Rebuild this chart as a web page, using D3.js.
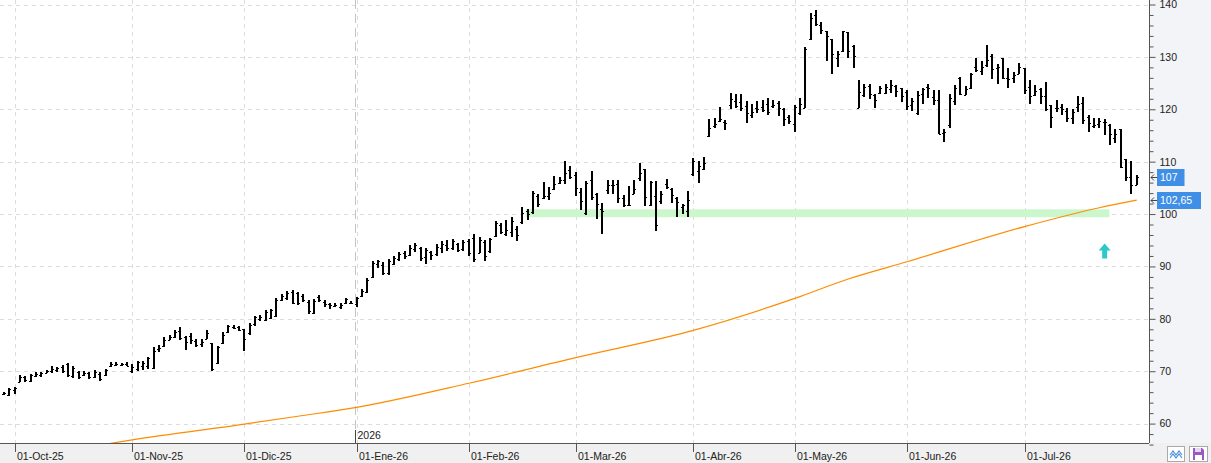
<!DOCTYPE html>
<html>
<head>
<meta charset="utf-8">
<script src="https://cdn.jsdelivr.net/npm/d3@7"></script>
<style>
body { margin: 0; background: #fff; }
svg { display: block; font-family: "Liberation Sans", Arial, sans-serif; }
</style>
</head>
<body>
<svg id="chart"></svg>
<script>
// daily bars: [open, high, low, close], one per trading day
var bars = [
  [65.6,66.1,65.5,65.9],[65.5,66.8,65.3,66.6],[66.5,67.0,65.6,66.8],[68.0,69.2,67.9,68.9],[68.9,69.1,67.9,68.3],
  [68.2,69.4,67.9,69.2],[69.0,69.8,68.9,69.4],[69.2,69.9,68.9,69.6],[69.7,70.3,69.6,70.1],[70.0,70.9,69.6,70.4],
  [70.3,70.8,69.9,70.6],[70.8,71.1,69.7,70.0],[71.3,71.5,68.9,69.2],[69.0,70.9,68.7,70.6],[69.8,70.0,68.5,68.9],
  [69.3,70.0,69.0,69.6],[69.6,69.8,68.5,68.8],[68.9,70.2,68.7,69.9],[69.5,69.8,68.1,68.5],[69.2,70.4,69.0,70.2],
  [71.0,71.7,70.8,71.3],[71.1,71.7,70.9,71.4],[71.2,71.6,70.9,71.3],[71.3,71.7,70.9,71.0],[70.0,71.3,69.7,70.8],
  [70.4,71.9,70.0,71.7],[70.9,71.9,70.3,71.5],[71.0,72.7,70.4,72.5],[70.6,74.6,70.4,73.9],[74.2,75.0,73.6,74.5],
  [74.8,76.5,74.6,76.0],[76.0,76.9,75.9,76.5],[76.6,77.9,76.3,77.4],[77.6,78.4,76.0,76.4],[76.5,76.8,74.0,75.5],
  [76.8,77.2,75.1,76.0],[75.8,76.2,74.6,75.0],[75.1,76.2,74.6,75.6],[76.2,77.9,76.1,77.2],[75.3,75.4,70.0,70.5],
  [71.5,74.9,71.3,74.6],[75.3,77.4,75.1,77.0],[77.4,78.9,77.2,78.6],[78.5,78.9,78.1,78.3],[78.4,78.7,77.6,77.9],
  [78.0,78.1,73.8,76.2],[77.2,79.2,77.0,78.8],[79.0,80.6,78.7,80.3],[80.0,80.7,79.5,80.4],[79.8,81.7,79.5,81.3],
  [80.1,81.8,79.9,81.6],[80.5,83.9,80.3,83.6],[83.6,84.7,83.4,84.4],[84.0,85.3,83.6,85.0],[85.2,85.5,82.8,83.1],
  [84.9,85.1,82.6,83.0],[84.3,84.7,83.2,83.6],[83.3,83.5,81.0,81.4],[81.2,83.7,80.9,83.4],[84.2,84.5,83.2,83.6],
  [83.3,83.5,82.3,82.9],[82.8,83.0,81.9,82.6],[82.5,83.0,82.3,82.7],[82.3,83.0,81.9,82.7],[83.0,83.9,82.8,83.7],
  [83.0,83.4,82.8,83.1],[82.8,84.2,82.3,83.9],[84.4,85.6,84.2,85.3],[85.1,87.7,84.9,87.5],[87.9,91.1,87.7,90.6],
  [90.4,91.3,89.7,91.0],[90.2,90.8,88.3,88.8],[88.7,91.5,88.3,91.1],[90.5,92.0,90.3,91.6],[91.4,92.7,91.1,92.4],
  [92.6,93.0,91.5,92.0],[92.2,94.0,92.0,93.6],[93.3,94.5,92.8,94.1],[93.6,93.8,91.0,91.6],[91.8,93.5,90.5,93.1],
  [92.8,93.0,91.2,92.2],[92.3,94.2,92.0,93.8],[93.5,94.8,92.5,94.2],[94.0,95.0,93.0,93.5],[93.6,95.2,93.2,94.8],
  [94.2,94.5,92.8,93.2],[93.4,95.0,93.0,94.6],[94.8,95.2,92.0,92.6],[95.4,96.1,90.8,91.4],[92.5,95.6,92.5,95.0],
  [94.6,95.0,91.0,92.0],[93.0,95.5,92.5,95.2],[95.8,98.6,95.6,98.3],[97.9,98.2,96.1,96.6],[96.2,98.9,95.9,97.0],
  [96.6,99.4,95.6,98.6],[97.2,97.8,94.9,96.0],[98.5,101.4,98.1,100.2],[100.5,101.0,98.9,100.1],[100.3,104.4,100.1,104.1],
  [103.5,103.8,101.4,102.0],[103.0,106.2,102.9,103.4],[103.4,105.2,102.7,104.0],[104.8,107.3,104.6,105.8],[106.0,107.0,105.7,106.5],
  [106.5,110.2,105.8,107.8],[108.5,109.2,106.7,107.0],[107.5,108.1,103.5,105.0],[104.3,104.9,100.8,102.4],[100.2,106.3,99.9,106.0],
  [106.5,108.3,102.7,103.2],[103.9,104.1,99.0,102.0],[101.0,102.2,96.1,100.5],[104.5,106.5,103.8,105.6],[105.5,106.5,103.8,105.6],
  [105.7,106.5,102.2,103.0],[103.0,103.7,101.4,101.7],[101.8,105.4,101.6,101.7],[103.9,106.5,103.9,104.8],[106.8,109.7,106.3,107.9],
  [108.6,108.6,101.6,103.2],[101.7,106.3,101.6,106.1],[103.5,106.3,96.8,98.0],[102.5,104.4,101.9,103.8],[105.8,106.7,104.8,105.2],
  [104.8,104.9,102.2,103.6],[103.0,103.2,99.4,102.3],[101.3,102.0,100.0,101.7],[100.5,104.4,99.5,102.6],[107.6,110.7,107.2,110.2],
  [108.2,110.2,106.0,109.1],[108.6,110.9,108.4,109.8],[114.9,118.1,114.7,116.5],[116.8,118.4,116.5,117.1],[117.8,120.4,117.5,118.2],
  [117.5,117.9,116.0,117.3],[120.8,123.2,120.0,122.0],[121.5,123.0,120.3,120.6],[121.3,122.9,119.7,120.2],[120.7,121.5,117.3,119.3],
  [119.0,121.1,118.4,119.5],[120.2,121.5,119.2,120.1],[120.5,121.7,119.4,119.9],[121.0,122.1,118.9,119.4],[120.7,121.7,120.2,120.9],
  [121.2,121.6,118.7,120.2],[120.0,120.3,116.8,118.2],[118.5,118.9,117.1,117.8],[117.2,120.8,115.7,120.5],[119.2,122.1,119.0,121.0],
  [120.3,131.9,120.3,131.6],[133.5,138.4,133.3,137.4],[138.0,139.0,135.9,136.3],[136.0,136.7,134.4,135.2],[135.0,135.0,129.2,134.0],
  [133.5,133.5,126.8,130.5],[129.8,131.1,128.1,130.6],[131.2,135.0,131.0,135.0],[134.7,134.8,129.8,131.2],[132.1,132.3,127.9,130.2],
  [120.2,125.5,120.2,123.3],[122.8,124.8,122.3,124.2],[124.5,124.8,121.9,122.9],[122.7,123.0,120.3,121.8],[123.1,124.4,123.0,124.0],
  [123.2,124.9,122.9,124.2],[123.9,125.5,123.2,124.6],[124.5,124.6,122.3,123.5],[124.0,124.0,121.3,122.5],[123.3,123.6,119.8,120.6],
  [120.8,122.2,119.7,121.6],[119.2,123.4,119.0,122.8],[123.0,124.0,121.1,123.8],[124.3,124.8,122.2,124.0],[122.3,123.6,120.8,121.8],
  [121.8,123.6,115.2,115.3],[115.4,116.2,113.7,115.6],[117.0,122.9,116.4,122.2],[121.5,124.6,120.8,124.0],[126.0,126.2,122.7,123.0],
  [122.8,124.4,122.7,123.8],[124.0,127.0,123.8,126.8],[128.0,129.7,127.2,127.5],[127.4,129.2,126.5,128.1],[128.5,132.3,128.1,129.5],
  [130.2,130.5,125.7,127.6],[127.8,128.7,124.9,128.0],[129.7,129.8,125.7,125.9],[126.0,127.9,124.0,125.7],[126.0,127.2,125.1,126.5],
  [126.8,128.9,126.7,128.0],[127.9,127.9,122.9,123.7],[124.2,125.5,121.1,122.5],[122.7,124.6,122.5,123.4],[123.9,124.0,121.0,122.6],
  [122.5,125.3,119.7,120.0],[120.8,120.8,116.5,118.5],[120.2,121.7,119.4,120.3],[120.5,121.1,119.0,120.1],[119.6,120.2,117.5,118.3],
  [118.4,120.0,117.1,119.5],[120.5,122.5,119.4,121.1],[121.2,122.3,117.1,118.0],[118.5,118.9,115.6,117.4],[116.8,118.3,116.4,117.0],
  [117.2,118.3,116.5,117.8],[117.5,118.1,115.1,117.6],[117.0,117.1,113.2,115.2],[114.6,116.2,113.5,115.3],[116.2,116.2,108.8,108.9],
  [110.5,110.5,106.3,107.0],[107.0,110.2,103.9,105.5],[105.6,107.5,105.6,107.0]
];

// long moving average, read at [bar index, value]
var maPoints = [[18,55.9],[24,56.9],[45,59.9],[55,61.4],[66,63.1],[87,67.7],[107,72.6],[129,77.8],
  [148,83.9],[158,87.6],[169,90.9],[191,97.6],[205,101.2],[212,102.65]];

var monthTicks = [[2,"01-Oct-25"],[24,"01-Nov-25"],[45,"01-Dic-25"],[66,"01-Ene-26"],[87,"01-Feb-26"],
  [107,"01-Mar-26"],[129,"01-Abr-26"],[148,"01-May-26"],[169,"01-Jun-26"],[191,"01-Jul-26"]];
var yearMark = [65.7, "2026"];
var yTicks = [60, 70, 80, 90, 100, 110, 120, 130, 140];
var priceTags = [[107, "107"], [102.65, "102,65"]];
var supportBand = [98, 206.5, 99.4, 100.9];   // from bar, to bar, low, high
var arrowMark = [206, 91.5, 94.4];            // bar, base value, tip value

var width = 1211, height = 463;
var plotRight = 1149, plotBottom = 443;

var svg = d3.select("#chart").attr("width", width).attr("height", height);

var x = d3.scaleLinear().domain([0, 212]).range([4, 4 + 212 * 5.343]);
var y = d3.scaleLinear().domain([60, 140]).range([423.6, 4.5]);

// backgrounds
svg.append("rect").attr("x", 0).attr("y", 0).attr("width", width).attr("height", height).attr("fill", "#fff");
svg.append("rect").attr("x", plotRight).attr("y", 0).attr("width", width - plotRight).attr("height", height).attr("fill", "#f3f4f7");
svg.append("rect").attr("x", 0).attr("y", plotBottom).attr("width", width).attr("height", height - plotBottom).attr("fill", "#f0f0f0");

svg.append("clipPath").attr("id", "plotclip").append("rect")
  .attr("x", 0).attr("y", 0).attr("width", plotRight).attr("height", plotBottom);

var plot = svg.append("g").attr("clip-path", "url(#plotclip)");

// grid
plot.selectAll("line.hgrid").data(yTicks).enter().append("line")
  .attr("class", "hgrid")
  .attr("x1", 0).attr("x2", plotRight)
  .attr("y1", d => Math.round(y(d)) + 0.5).attr("y2", d => Math.round(y(d)) + 0.5)
  .attr("stroke", "#dcdcdc").attr("stroke-dasharray", "4,4");
plot.selectAll("line.vgrid").data(monthTicks).enter().append("line")
  .attr("class", "vgrid")
  .attr("x1", d => Math.round(x(d[0])) + 0.5).attr("x2", d => Math.round(x(d[0])) + 0.5)
  .attr("y1", 0).attr("y2", plotBottom)
  .attr("stroke", "#dcdcdc").attr("stroke-dasharray", "4,4");

// year separator
var yx = Math.round(x(yearMark[0])) + 0.5;
plot.append("line").attr("x1", yx).attr("x2", yx).attr("y1", 0).attr("y2", plotBottom)
  .attr("stroke", "#c4c4c4").attr("stroke-dasharray", "9,5");
plot.append("line").attr("x1", yx).attr("x2", yx).attr("y1", 430).attr("y2", plotBottom)
  .attr("stroke", "#444");
plot.append("text").attr("x", yx + 2).attr("y", 439).attr("font-size", "10.5px").attr("fill", "#222")
  .text(yearMark[1]);

// support band
plot.append("rect")
  .attr("x", x(supportBand[0]) - 2).attr("width", x(supportBand[1]) - x(supportBand[0]) + 4)
  .attr("y", y(supportBand[3])).attr("height", y(supportBand[2]) - y(supportBand[3]))
  .attr("fill", "#ccf7cc");

// moving average
plot.append("path").datum(maPoints)
  .attr("d", d3.line().x(d => x(d[0])).y(d => y(d[1])).curve(d3.curveMonotoneX))
  .attr("fill", "none").attr("stroke", "#ff8c00").attr("stroke-width", 1.2);

// OHLC bars
var bg = plot.append("g").attr("stroke", "#000").attr("shape-rendering", "crispEdges");
bg.selectAll("line.hl").data(bars).enter().append("line")
  .attr("x1", (d, i) => Math.round(x(i))).attr("x2", (d, i) => Math.round(x(i)))
  .attr("y1", d => y(d[1])).attr("y2", d => y(d[2]))
  .attr("stroke-width", 2);
bg.selectAll("line.op").data(bars).enter().append("line")
  .attr("x1", (d, i) => Math.round(x(i)) - 2).attr("x2", (d, i) => Math.round(x(i)))
  .attr("y1", d => Math.round(y(d[0])) + 0.5).attr("y2", d => Math.round(y(d[0])) + 0.5)
  .attr("stroke-width", 1.5);
bg.selectAll("line.cl").data(bars).enter().append("line")
  .attr("x1", (d, i) => Math.round(x(i))).attr("x2", (d, i) => Math.round(x(i)) + 2)
  .attr("y1", d => Math.round(y(d[3])) + 0.5).attr("y2", d => Math.round(y(d[3])) + 0.5)
  .attr("stroke-width", 1.5);

// up arrow
var ax = x(arrowMark[0]), ab = y(arrowMark[1]), at = y(arrowMark[2]);
plot.append("path")
  .attr("d", "M" + ax + "," + at + " L" + (ax + 6) + "," + (at + 7) + " L" + (ax + 2.5) + "," + (at + 7) +
    " L" + (ax + 2.5) + "," + ab + " L" + (ax - 2.5) + "," + ab + " L" + (ax - 2.5) + "," + (at + 7) +
    " L" + (ax - 6) + "," + (at + 7) + "Z")
  .attr("fill", "#2ec8c8");

// axes
svg.append("line").attr("x1", 0).attr("x2", plotRight).attr("y1", plotBottom + 0.5).attr("y2", plotBottom + 0.5)
  .attr("stroke", "#555");
svg.append("line").attr("x1", plotRight + 0.5).attr("x2", plotRight + 0.5).attr("y1", 0).attr("y2", plotBottom)
  .attr("stroke", "#555");

var yAxis = d3.axisRight(y).tickValues(d3.range(56, 141, 2))
  .tickSize(4).tickFormat(d => d % 10 === 0 ? d : "");
var ya = svg.append("g").attr("transform", "translate(" + (plotRight + 0.5) + ",0)").call(yAxis);
ya.select(".domain").remove();
ya.selectAll(".tick line").attr("stroke", "#555")
  .attr("x2", d => d % 10 === 0 ? 6 : 4);
ya.selectAll(".tick text").attr("x", 10).attr("font-size", "10.5px")
  .attr("font-family", "Liberation Sans, Arial, sans-serif").attr("fill", "#222");

var xa = svg.append("g");
xa.selectAll("line").data(monthTicks).enter().append("line")
  .attr("x1", d => Math.round(x(d[0])) + 0.5).attr("x2", d => Math.round(x(d[0])) + 0.5)
  .attr("y1", plotBottom).attr("y2", plotBottom + 9).attr("stroke", "#555");
xa.selectAll("text").data(monthTicks).enter().append("text")
  .attr("x", d => Math.round(x(d[0])) + 2).attr("y", 460)
  .attr("font-size", "10.5px").attr("fill", "#222").text(d => d[1]);

// last value tags
var tags = svg.selectAll("g.tag").data(priceTags).enter().append("g").attr("class", "tag")
  .attr("transform", d => "translate(0," + Math.round(y(d[0])) + ")");
tags.append("path").attr("d", "M1151,0.5 L1157,0.5 M1154,-2.5 L1151,0.5 L1154,3.5")
  .attr("stroke", "#444").attr("fill", "none");
tags.append("rect").attr("x", 1157).attr("y", -8).attr("height", 17)
  .attr("width", d => d[1].length * 5.5 + 11).attr("fill", "#3f8fe6");
tags.append("text").attr("x", 1160).attr("y", 4).attr("font-size", "10.5px").attr("fill", "#fff")
  .text(d => d[1]);

// buttons bottom right
var b1 = svg.append("g").attr("transform", "translate(1167,446)");
b1.append("rect").attr("x", 0.5).attr("y", 0.5).attr("width", 17).attr("height", 15).attr("fill", "#fff").attr("stroke", "#aaa");
b1.append("path").attr("d", "M3,9 L6,5 L9,9 L12,5 L15,9 M3,12 L6,8 L9,12 L12,8 L15,12")
  .attr("stroke", "#4a90d9").attr("fill", "none").attr("stroke-width", 1.2);
var b2 = svg.append("g").attr("transform", "translate(1189,446)");
b2.append("rect").attr("x", 0.5).attr("y", 0.5).attr("width", 18).attr("height", 15).attr("fill", "#fff").attr("stroke", "#aaa");
b2.append("path").attr("d", "M4,2 L13,2 L15,4 L15,14 L4,14 Z").attr("fill", "#9b59c6");
b2.append("rect").attr("x", 6).attr("y", 2).attr("width", 6).attr("height", 4).attr("fill", "#e6d8f2");
b2.append("rect").attr("x", 6).attr("y", 9).attr("width", 7).attr("height", 5).attr("fill", "#fff");
</script>
</body>
</html>
